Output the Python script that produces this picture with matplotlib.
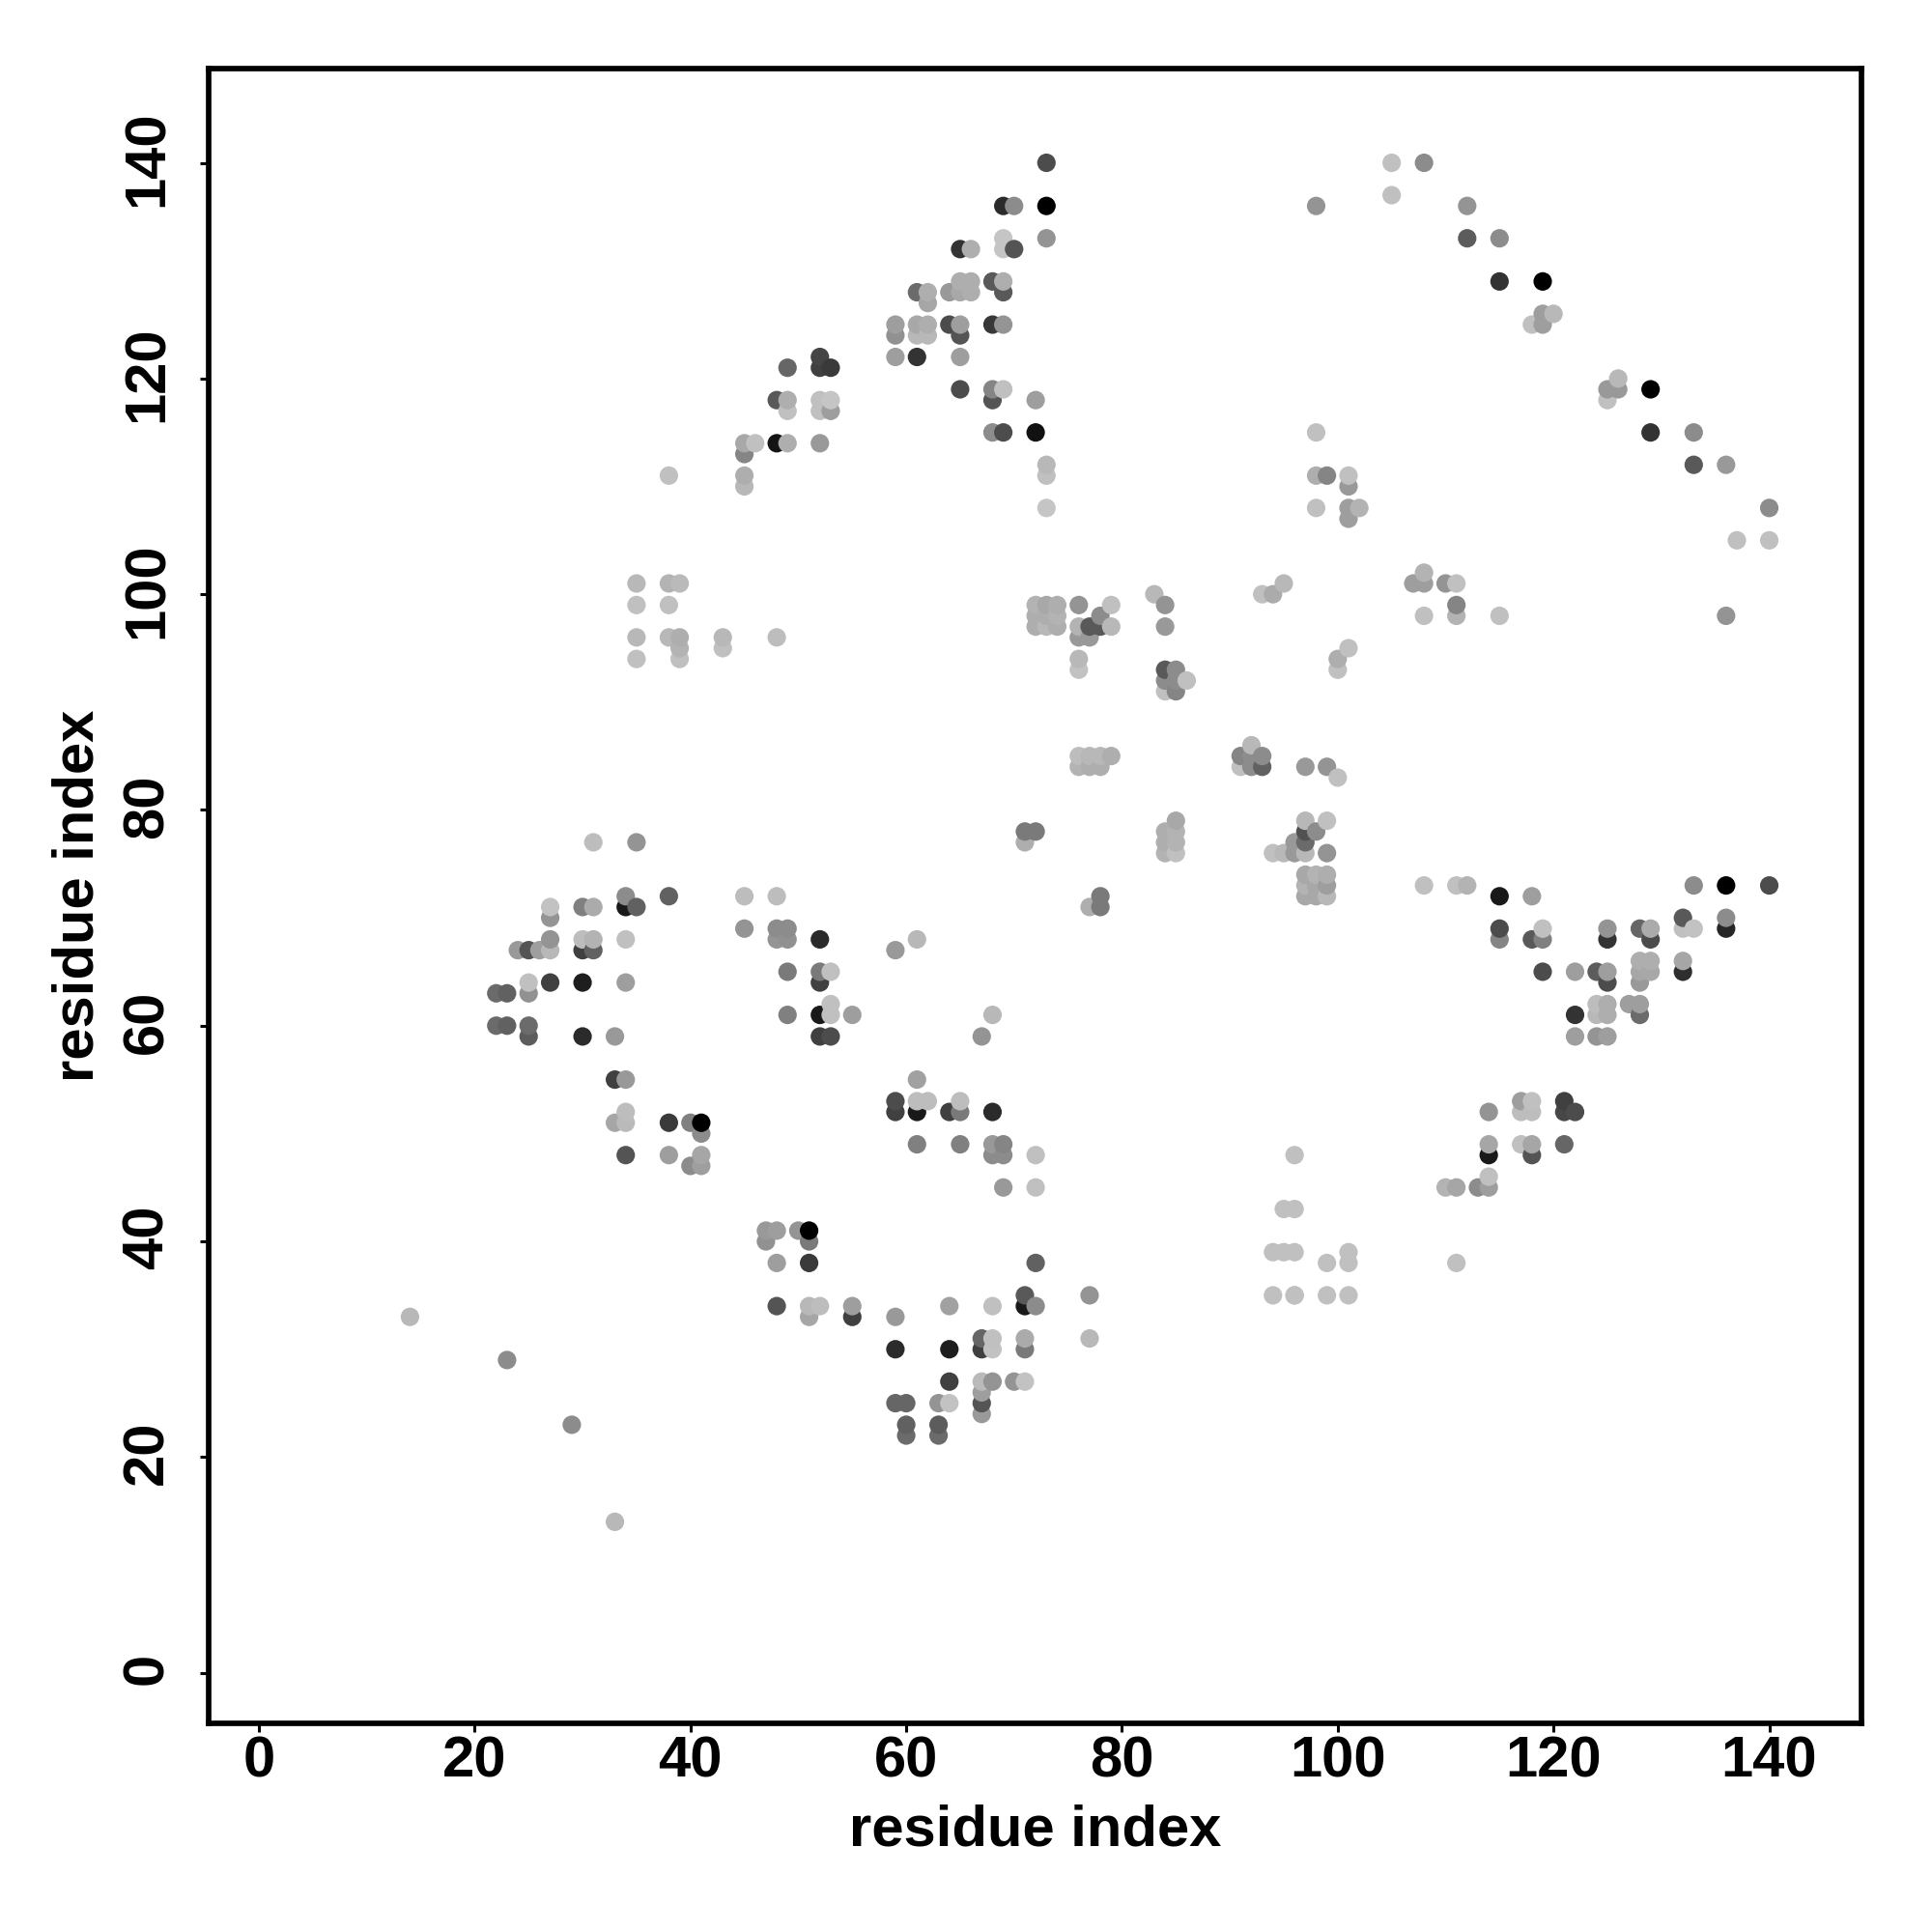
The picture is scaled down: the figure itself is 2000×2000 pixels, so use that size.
import numpy as np
import matplotlib
matplotlib.use("Agg")
import matplotlib.pyplot as plt
from matplotlib.transforms import ScaledTranslation

plt.rcParams['font.family'] = ['Liberation Sans', 'DejaVu Sans']

# residue i, residue j, grey level of each contact, one line per block of the map
res_x_top = [73,105,108,69,70,73,98,105,112,69,73,112,115,65,66,69,70,65,66,68,69,115,119,61,62,64,65,66,69,62,119,120,
             59,61,62,64,65,68,69,118,119,59,61,62,65,59,61,65,52,49,52,53,126,65,68,69,125,126,129,48,49,52,53,68,72,125,
             49,52,53,68,69,72,98,129,133,45,46,48,49,52,45,73,133,136,38,45,73,98,99,101,45,101,73,98,101,102,140,101,137,140]
res_y_top = [140,140,140,136,136,136,136,137,136,133,133,133,133,132,132,132,132,129,129,129,129,129,129,128,128,128,128,128,128,127,126,126,
             125,125,125,125,125,125,125,125,125,124,124,124,124,122,122,122,122,121,121,121,120,119,119,119,119,119,119,118,118,118,118,118,118,118,
             117,117,117,115,115,115,115,115,115,114,114,114,114,114,113,112,112,112,111,111,111,111,111,111,110,110,108,108,108,108,108,107,105,105]
grey_top = [.30,.75,.55,.17,.55,0,.58,.75,.58,.77,.58,.36,.55,.20,.68,.77,.33,.68,.68,.35,.68,.20,0,.42,.68,.60,.66,.68,.35,.65,.62,.72,
            .62,.66,.68,.30,.62,.22,.58,.75,.62,.57,.72,.72,.33,.62,.20,.62,.27,.40,.25,.23,.72,.30,.52,.75,.60,.60,0,.35,.68,.75,.77,.33,.62,.75,
            .75,.75,.62,.55,.30,.07,.75,.20,.55,.66,.75,.08,.68,.60,.52,.72,.35,.60,.75,.68,.75,.68,.52,.75,.72,.60,.77,.75,.62,.70,.55,.62,.75,.75]

res_x_mid = [108,35,38,39,95,107,108,110,111,83,93,94,35,38,72,73,74,76,79,84,111,72,73,74,78,108,111,115,136,
             72,73,74,76,77,78,79,84,35,38,39,43,48,76,77,39,43,101,35,39,76,100,76,84,85,100,84,85,86,84,85,
             92,76,77,78,79,91,92,93,76,77,78,91,92,93,97,99,100,85,97,99,71,72,84,85,97,98,
             71,84,85,96,97,84,85,94,95,96,97,99,97,98,99,97,98,99,97,98,99,77,78,78,108,111,112]
res_y_mid = [102,101,101,101,101,101,101,101,101,100,100,100,99,99,99,99,99,99,99,99,99,98,98,98,98,98,98,98,98,
             97,97,97,97,97,97,97,97,96,96,96,96,96,96,96,95,95,95,94,94,94,94,93,93,93,93,92,92,92,91,91,
             86,85,85,85,85,85,85,85,84,84,84,84,84,84,84,84,83,79,79,79,78,78,78,78,78,78,
             77,77,77,77,77,76,76,76,76,76,76,76,74,74,74,73,73,73,72,72,72,71,71,72,73,73,73]
grey_mid = [.70,.72,.70,.73,.72,.62,.62,.58,.75,.72,.75,.67,.75,.75,.70,.66,.68,.58,.75,.58,.52,.68,.68,.70,.55,.75,.70,.75,.58,
            .68,.72,.68,.70,.35,.35,.72,.60,.72,.72,.68,.72,.74,.60,.60,.70,.75,.75,.75,.75,.72,.68,.76,.35,.55,.75,.55,.55,.75,.75,.52,
            .72,.74,.72,.72,.68,.52,.55,.55,.70,.68,.68,.75,.55,.38,.60,.58,.75,.66,.72,.75,.48,.48,.68,.70,.32,.55,
            .68,.68,.70,.60,.42,.70,.75,.75,.72,.60,.72,.58,.66,.70,.68,.70,.66,.62,.66,.66,.72,.68,.48,.48,.75,.75,.70]

res_x_low = [31,35,34,34,35,38,45,48,115,118,133,136,140,27,27,30,31,27,27,26,25,24,30,31,34,30,31,
             45,48,49,48,49,52,59,61,115,115,119,118,119,125,125,128,129,129,132,132,133,136,136,
             25,27,30,34,22,23,25,49,52,53,52,119,122,124,125,125,128,129,128,129,128,132,132,
             53,49,52,53,55,67,68,122,124,125,124,125,127,128,128,22,23,25,25,30,33,52,53,122,124,125]
res_y_low = [77,77,72,71,71,72,72,72,72,72,73,73,73,71,70,71,71,68,67,67,67,67,68,68,68,67,67,
             69,69,69,68,68,68,67,68,69,68,69,68,68,69,68,69,69,68,70,69,69,70,69,
             64,64,64,64,63,63,63,65,65,65,64,65,65,65,65,64,66,66,65,65,64,66,65,
             62,61,61,61,61,59,61,61,62,62,61,61,62,62,61,60,60,60,59,59,59,59,59,59,59,59]
grey_low = [.74,.58,.55,.10,.38,.38,.74,.74,.10,.62,.55,0,.30,.76,.58,.50,.67,.58,.72,.62,.33,.60,.74,.70,.75,.25,.38,
            .58,.55,.55,.58,.57,.17,.60,.72,.30,.52,.75,.35,.50,.58,.20,.40,.67,.30,.35,.75,.76,.55,.15,
            .75,.25,.12,.62,.42,.38,.57,.48,.48,.75,.25,.30,.62,.36,.62,.30,.68,.68,.65,.66,.60,.65,.18,
            .75,.50,.10,.75,.62,.58,.72,.20,.74,.68,.72,.68,.62,.62,.42,.42,.38,.42,.36,.17,.60,.25,.30,.62,.58,.62]

res_x_bot = [33,34,61,59,59,61,62,61,64,65,65,68,33,34,34,38,40,41,41,34,38,41,40,41,61,65,68,69,68,69,72,69,72,
             114,117,118,117,118,121,121,122,114,114,117,118,118,121,110,111,113,114,114,96,95,96,94,95,96,99,101,96,101,111,94,96,99,101,
             47,48,50,51,47,51,48,51,72,71,77,48,51,52,55,51,55,59,64,68,71,72,
             59,64,67,68,67,68,71,71,77,64,67,68,70,71,67,59,60,63,64,67,67,60,63,60,63,
             14,23,29,33]
res_y_bot = [55,55,55,53,52,53,53,52,52,53,52,52,51,52,51,51,51,51,50,48,48,48,47,47,49,49,49,49,48,48,48,45,45,
             52,53,53,52,52,53,52,52,49,48,49,49,48,49,45,45,45,46,45,48,43,43,39,39,39,38,39,35,35,38,35,35,35,38,
             41,41,41,41,40,40,38,38,38,35,35,34,34,34,34,33,33,33,34,34,34,34,
             30,30,31,31,30,30,31,30,31,27,27,27,27,27,26,25,25,25,25,25,24,23,23,22,22,
             33,29,23,14]
grey_bot = [.25,.60,.63,.30,.25,.74,.74,.10,.25,.74,.48,.17,.65,.74,.73,.23,.50,0,.55,.33,.62,.65,.55,.62,.50,.50,.60,.52,.55,.55,.75,.60,.75,
            .58,.62,.75,.74,.74,.25,.28,.30,.65,.10,.75,.65,.33,.40,.70,.65,.55,.75,.62,.75,.75,.75,.75,.75,.75,.75,.75,.75,.75,.75,.75,.75,.75,.75,
            .60,.62,.58,0,.57,.48,.62,.23,.38,.35,.58,.33,.72,.74,.62,.65,.25,.60,.63,.75,.10,.55,
            .17,.12,.40,.75,.25,.76,.67,.48,.72,.25,.73,.58,.58,.76,.62,.40,.40,.58,.76,.33,.60,.38,.36,.42,.42,
            .72,.55,.55,.72]

tick_values = [0, 20, 40, 60, 80, 100, 120, 140]

xs = np.array(res_x_top + res_x_mid + res_x_low + res_x_bot, dtype=float)
ys = np.array(res_y_top + res_y_mid + res_y_low + res_y_bot, dtype=float)
gs = np.array(grey_top + grey_mid + grey_low + grey_bot, dtype=float)
order = np.lexsort((ys, xs))

fig = plt.figure(figsize=(20, 20), dpi=100)
ax = fig.add_axes([216/2000, 1 - 1783.5/2000, (1927-216)/2000, (1783.5-71.4)/2000])
ax.scatter(xs[order], ys[order], c=gs[order], cmap='gray', vmin=0, vmax=1, s=190, linewidths=0, zorder=3)
ax.set_xlim(-4.66, 148.55)
ax.set_ylim(-4.64, 148.7)
ax.set_xticks(tick_values)
ax.set_yticks(tick_values)
ax.tick_params(axis='x', length=6.5, width=2.2, labelsize=43, pad=3.2)
ax.tick_params(axis='y', length=6.5, width=2.2, labelsize=43, pad=19)
for t in ax.get_xticklabels():
    t.set_fontweight('bold')
shift_up = ScaledTranslation(0, 3/72, fig.dpi_scale_trans)
for t in ax.get_yticklabels():
    t.set_fontweight('bold'); t.set_rotation(90); t.set_va('center')
    t.set_transform(t.get_transform() + shift_up)
for s in ax.spines.values():
    s.set_linewidth(4.1)
ax.set_xlabel('residue index', fontsize=43, fontweight='bold', labelpad=11)
ax.set_ylabel('residue index', fontsize=43, fontweight='bold', labelpad=12)
fig.savefig('out.png', dpi=100, facecolor='white')
